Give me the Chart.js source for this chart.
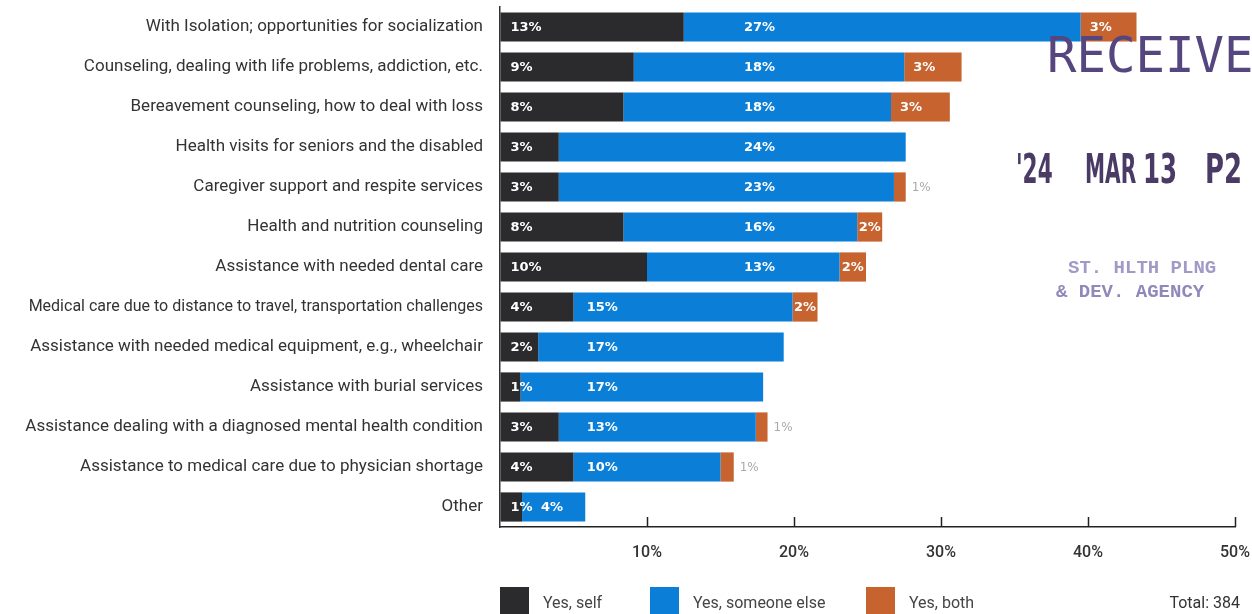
<!DOCTYPE html>
<html>
<head>
<meta charset="utf-8">
<script src="https://cdn.jsdelivr.net/npm/chart.js@4.4.1/dist/chart.umd.min.js"></script>
<style>
  body { margin: 0; background: #fff; width: 1252px; height: 614px; overflow: hidden; position: relative; font-family: Roboto, "Noto Sans", sans-serif; }
  #wrap { position: absolute; left: 0; top: 0; width: 1252px; height: 614px; }
  .legend { position: absolute; top: 587px; left: 0; width: 1252px; height: 30px; }
  .legend .item { position: absolute; top: 0; height: 28px; }
  .legend .box { position: absolute; left: 0; top: 0; width: 29px; height: 28px; }
  .legend .txt { position: absolute; left: 43px; top: 6px; font-size: 16px; color: #444; white-space: nowrap; }
  .total { position: absolute; right: 12px; top: 593px; font-size: 16px; color: #333; }
  .stamp { position: absolute; color: #55467f; white-space: nowrap; }
  .date { font: bold 40px 'DejaVu Sans Condensed','DejaVu Sans',sans-serif; color: #4a3a66; top: 146px; transform-origin: left top; }
</style>
</head>
<body>
<div id="wrap"><canvas id="chart" width="1252" height="614"></canvas></div>
<div class="legend" id="legend"></div>
<div class="total">Total: 384</div>
<div class="stamp" style="left:1047px;top:27px;font:49px 'DejaVu Sans Mono',monospace;">RECEIVED</div>
<div class="stamp date" style="left:1016px;transform:scaleX(0.6);">'24</div>
<div class="stamp date" style="left:1085px;transform:scaleX(0.56);">MAR</div>
<div class="stamp date" style="left:1143px;transform:scaleX(0.68);">13</div>
<div class="stamp date" style="left:1205px;transform:scaleX(0.72);">P2</div>
<div class="stamp" style="left:1068px;top:257px;font:bold 19px 'Liberation Mono',monospace;color:#8b80b8;opacity:0.8;">ST. HLTH PLNG</div>
<div class="stamp" style="left:1056px;top:281px;font:bold 19px 'Liberation Mono',monospace;color:#7f73ad;opacity:0.85;">&amp; DEV. AGENCY</div>
<script>
const categories = [
  'With Isolation; opportunities for socialization',
  'Counseling, dealing with life problems, addiction, etc.',
  'Bereavement counseling, how to deal with loss',
  'Health visits for seniors and the disabled',
  'Caregiver support and respite services',
  'Health and nutrition counseling',
  'Assistance with needed dental care',
  'Medical care due to distance to travel, transportation challenges',
  'Assistance with needed medical equipment, e.g., wheelchair',
  'Assistance with burial services',
  'Assistance dealing with a diagnosed mental health condition',
  'Assistance to medical care due to physician shortage',
  'Other'
];

// bar lengths as drawn (percent)
const selfVals  = [12.5, 9.1, 8.4, 4.0, 4.0, 8.4, 10.0, 5.0, 2.6, 1.4, 4.0, 5.0, 1.5];
const otherVals = [27.0, 18.4, 18.2, 23.6, 22.8, 15.9, 13.1, 14.9, 16.7, 16.5, 13.4, 10.0, 4.3];
const bothVals  = [3.8, 3.9, 4.0, 0, 0.8, 1.7, 1.8, 1.7, 0, 0, 0.8, 0.9, 0];

// printed labels
const selfLabels  = ['13%', '9%', '8%', '3%', '3%', '8%', '10%', '4%', '2%', '1%', '3%', '4%', '1%'];
const otherLabels = ['27%', '18%', '18%', '24%', '23%', '16%', '13%', '15%', '17%', '17%', '13%', '10%', '4%'];
const bothLabels  = ['3%', '3%', '3%', '', '1%', '2%', '2%', '2%', '', '', '1%', '1%', ''];

const xTicks = [10, 20, 30, 40, 50];
const seriesNames = ['Yes, self', 'Yes, someone else', 'Yes, both'];
const colors = ['#2b2b2e', '#0b7fd8', '#c6632f'];

const labelPlugin = {
  id: 'barLabels',
  afterDatasetsDraw(chart) {
    const ctx = chart.ctx;
    const x = chart.scales.x;
    ctx.save();
    ctx.textBaseline = 'middle';
    ctx.textAlign = 'left';
    const bold = 'bold 13px "DejaVu Sans", sans-serif';

    chart.getDatasetMeta(0).data.forEach((bar, i) => {
      ctx.font = bold;
      ctx.fillStyle = '#fff';
      ctx.fillText(selfLabels[i], bar.base + 10, bar.y + 1);
    });

    chart.getDatasetMeta(1).data.forEach((bar, i) => {
      let lx;
      if (i < 7) lx = x.getPixelForValue(16.6);
      else if (i < 12) lx = x.getPixelForValue(5.9);
      else lx = bar.base + 19;
      ctx.font = bold;
      ctx.fillStyle = '#fff';
      ctx.fillText(otherLabels[i], lx, bar.y + 1);
    });

    chart.getDatasetMeta(2).data.forEach((bar, i) => {
      const t = bothLabels[i];
      if (!t) return;
      const w = bar.x - bar.base;
      if (w >= 20) {
        ctx.font = bold;
        ctx.fillStyle = '#fff';
        const tw = ctx.measureText(t).width;
        ctx.fillText(t, bar.base + Math.min(9, (w - tw) / 2), bar.y + 1);
      } else {
        ctx.font = '12px "DejaVu Sans", sans-serif';
        ctx.fillStyle = '#aaa';
        ctx.fillText(t, bar.x + 6, bar.y + 1);
      }
    });

    // tick marks pointing up into the plot
    const bottom = chart.chartArea.bottom;
    ctx.strokeStyle = '#222';
    ctx.lineWidth = 1.5;
    xTicks.forEach(v => {
      const px = Math.round(x.getPixelForValue(v)) + 0.5;
      ctx.beginPath();
      ctx.moveTo(px, bottom);
      ctx.lineTo(px, bottom - 10);
      ctx.stroke();
    });
    ctx.restore();
  }
};

const hiddenGrid = len => ({
  display: true, drawOnChartArea: false, drawTicks: true, tickLength: len, color: 'rgba(0,0,0,0)'
});

new Chart(document.getElementById('chart').getContext('2d'), {
  type: 'bar',
  data: {
    labels: categories,
    datasets: [
      { label: seriesNames[0], data: selfVals, backgroundColor: colors[0] },
      { label: seriesNames[1], data: otherVals, backgroundColor: colors[1] },
      { label: seriesNames[2], data: bothVals, backgroundColor: colors[2] }
    ]
  },
  options: {
    indexAxis: 'y',
    responsive: false,
    animation: false,
    events: [],
    datasets: { bar: { categoryPercentage: 1, barPercentage: 0.73, borderWidth: 0 } },
    layout: { padding: { top: 7, right: 17, bottom: 55, left: 0 } },
    plugins: { legend: { display: false }, tooltip: { enabled: false } },
    scales: {
      x: {
        stacked: true,
        min: 0,
        max: 50,
        grid: hiddenGrid(17),
        border: { display: true, color: '#222', width: 1.5 },
        afterFit: s => { s.height = 32; },
        ticks: {
          stepSize: 10,
          padding: 0,
          color: '#333',
          font: { family: 'Roboto', size: 16, weight: '500', lineHeight: 1.1 },
          callback: v => v === 0 ? '' : v + '%'
        }
      },
      y: {
        stacked: true,
        grid: hiddenGrid(17),
        border: { display: true, color: '#333', width: 1.5 },
        afterFit: s => { s.width = 500; },
        ticks: {
          padding: 0,
          color: '#333',
          autoSkip: false,
          font: ctx => ({ family: 'Roboto', size: ctx.index === 7 ? 16 : 17, lineHeight: 0.8 })
        }
      }
    }
  },
  plugins: [labelPlugin]
});

// legend below the plot
const legend = document.getElementById('legend');
const legendX = [500, 650, 866];
seriesNames.forEach((name, i) => {
  const item = document.createElement('div');
  item.className = 'item';
  item.style.left = legendX[i] + 'px';
  item.innerHTML = `<div class="box" style="background:${colors[i]}"></div><div class="txt">${name}</div>`;
  legend.appendChild(item);
});
</script>
</body>
</html>
